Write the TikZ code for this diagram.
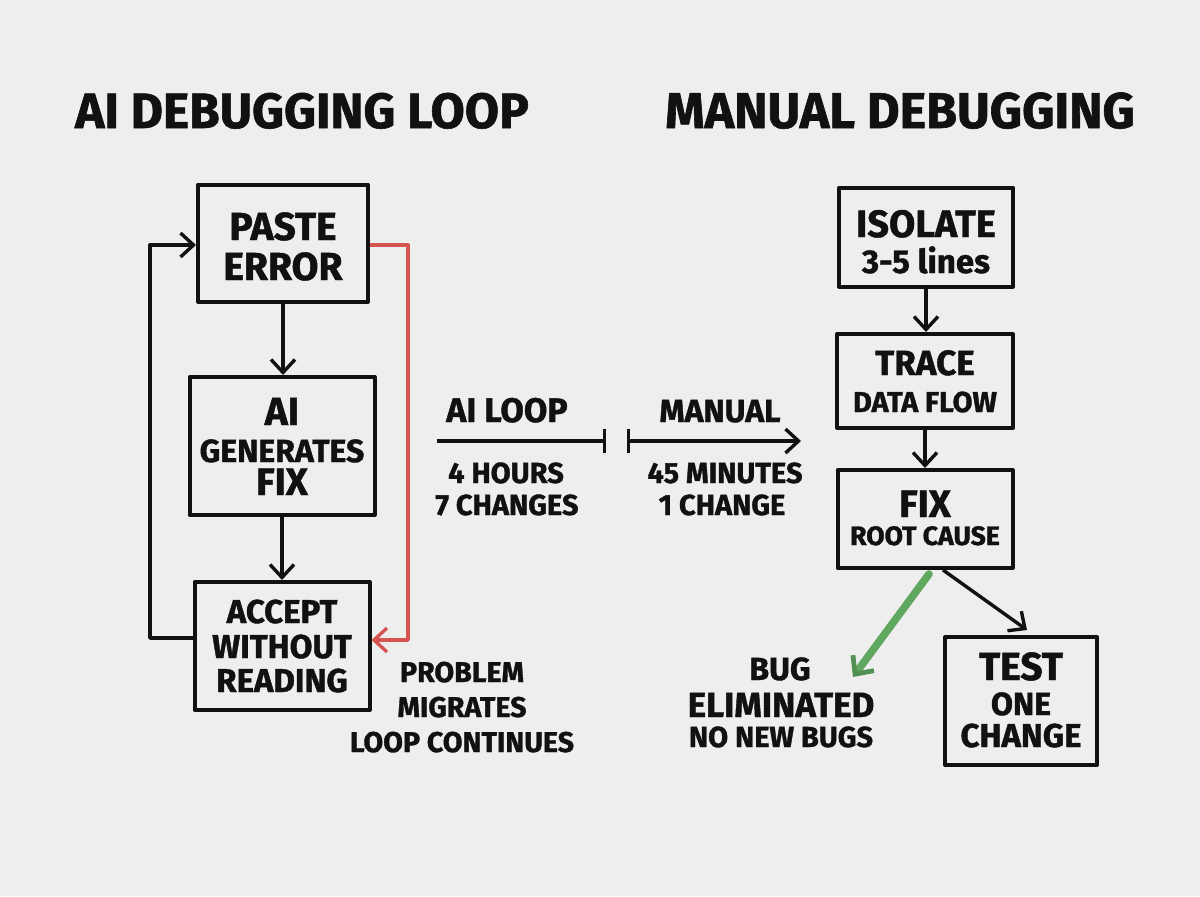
\documentclass[tikz,border=0pt]{standalone}
\usepackage{fontspec}
\setmainfont{Fira Sans}[BoldFeatures={FakeBold=1.2}]
\usetikzlibrary{arrows.meta}
\definecolor{bg}{RGB}{238,238,238}
\definecolor{ink}{RGB}{17,17,17}
\definecolor{loopred}{RGB}{214,84,80}
\definecolor{okgreen}{RGB}{96,168,96}
\newcommand{\fsz}[1]{\fontsize{#1}{#1}\selectfont\bfseries}
\tikzset{
  box/.style={draw=ink, line width=2pt, line join=round, rectangle, inner sep=0pt, fill=none},
  lbl/.style={anchor=base, inner sep=0pt, text=ink},
  arr/.style={draw=ink, line width=1.7pt, line join=round, -{Straight Barb[length=6.5pt,width=12pt,line width=1.7pt]}},
}
\begin{document}
\begin{tikzpicture}[x=0.5pt,y=-0.5pt]
\fill[bg] (0,0) rectangle (1200,896);
\useasboundingbox (0,0) rectangle (1200,896);

% titles
\node[lbl, font=\fsz{24.8}] (t1) at (302,128) {AI DEBUGGING LOOP};
\node[lbl, font=\fsz{25.1}] (t2) at (900,128) {MANUAL DEBUGGING};

% left boxes
\node[box, minimum width=85pt, minimum height=58.5pt] (paste) at (283,243) {};
\node[box, minimum width=92.5pt, minimum height=69pt] (gen) at (282,446) {};
\node[box, minimum width=87.5pt, minimum height=64pt] (accept) at (282,646) {};

\node[lbl, font=\fsz{19.5}] (p1) at (283,240) {PASTE};
\node[lbl, font=\fsz{19.5}] (p2) at (283,280) {ERROR};
\node[lbl, font=\fsz{19.5}] (g1) at (282,425) {AI};
\node[lbl, font=\fsz{16}] (g2) at (282,462) {GENERATES};
\node[lbl, font=\fsz{19}] (g3) at (282,495) {FIX};
\node[lbl, font=\fsz{16.5}] (a1) at (282,623) {ACCEPT};
\node[lbl, font=\fsz{16.5}] (a2) at (282,658) {WITHOUT};
\node[lbl, font=\fsz{16.5}] (a3) at (282,692) {READING};

\draw[arr] (paste.south) -- (paste.south |- gen.north);
\draw[arr] (gen.south) -- (gen.south |- accept.north);

\coordinate (lx) at (150,0);
\coordinate (rx) at (408,0);
\draw[arr] ([yshift=4pt]accept.west) -- ([yshift=4pt]accept.west -| lx) |- ([yshift=-1pt]paste.west);
\draw[arr, draw=loopred, -{Straight Barb[length=6.5pt,width=12pt,line width=1.7pt,color=loopred]}] ([yshift=-1pt]paste.east) -- ([yshift=-1pt]paste.east -| rx) |- ([yshift=3pt]accept.east);

\node[lbl, font=\fsz{14.3}] (m1) at (462,682) {PROBLEM};
\node[lbl, font=\fsz{14.3}] (m2) at (462,717) {MIGRATES};
\node[lbl, font=\fsz{14.3}] (m3) at (462,752) {LOOP CONTINUES};

% middle comparison
\coordinate (c1) at (437,441);
\coordinate (c2) at (606,441);
\coordinate (c3) at (627,441);
\coordinate (c4) at (801,441);
\draw[line width=1.7pt, draw=ink, -{Bar[width=12pt,line width=1.7pt]}] (c1) -- (c2);
\draw[line width=1.7pt, draw=ink, {Bar[width=12pt,line width=1.7pt]}-{Straight Barb[length=6.5pt,width=12pt,line width=1.7pt]}] (c3) -- (c4);

\node[lbl, font=\fsz{17}] (l1) at (507,422) {AI LOOP};
\node[lbl, font=\fsz{16}] (l2) at (720,422) {MANUAL};
\node[lbl, font=\fsz{14.5}] (l3) at (506,483) {4 HOURS};
\node[lbl, font=\fsz{14.5}] (l4) at (507,515) {7 CHANGES};
\node[lbl, font=\fsz{14.5}] (l5) at (725,483) {45 MINUTES};
\node[lbl, font=\fsz{14.5}] (l6) at (722,515) {1 CHANGE};

% right boxes
\node[box, minimum width=87pt, minimum height=49.5pt] (iso) at (926,237) {};
\node[box, minimum width=88pt, minimum height=47pt] (trace) at (925,381) {};
\node[box, minimum width=87.5pt, minimum height=49pt] (fix) at (925,519) {};
\node[box, minimum width=76pt, minimum height=64pt] (test) at (1021,701) {};

\node[lbl, font=\fsz{19}] (i1) at (926,237) {ISOLATE};
\node[lbl, font=\fsz{16.5}] (i2) at (926,273) {3-5 lines};
\node[lbl, font=\fsz{17.5}] (r1) at (925,375) {TRACE};
\node[lbl, font=\fsz{14.4}] (r2) at (925,412) {DATA FLOW};
\node[lbl, font=\fsz{19}] (f1) at (925,517) {FIX};
\node[lbl, font=\fsz{13.3}] (f2) at (925,545) {ROOT CAUSE};
\node[lbl, font=\fsz{19.5}] (s1) at (1021,680) {TEST};
\node[lbl, font=\fsz{16}] (s2) at (1021,715) {ONE};
\node[lbl, font=\fsz{16.5}] (s3) at (1021,747) {CHANGE};

\draw[arr] (iso.south) -- (iso.south |- trace.north);
\draw[arr] (trace.south) -- (trace.south |- fix.north);

\coordinate (bugtip) at (853,677);
\draw[line width=3.8pt, draw=okgreen, line cap=round, -{Straight Barb[length=7pt,width=13pt,line width=2.4pt,color=okgreen!85!black]}] ([xshift=2pt,yshift=-2pt]fix.south) -- (bugtip);
\draw[arr] ([xshift=9pt]fix.south) -- ([xshift=3pt,yshift=2.5pt]test.north);

\node[lbl, font=\fsz{16}] (b1) at (780,680) {BUG};
\node[lbl, font=\fsz{17.5}] (b2) at (781,717) {ELIMINATED};
\node[lbl, font=\fsz{14.5}] (b3) at (781,747) {NO NEW BUGS};
\end{tikzpicture}
\end{document}
